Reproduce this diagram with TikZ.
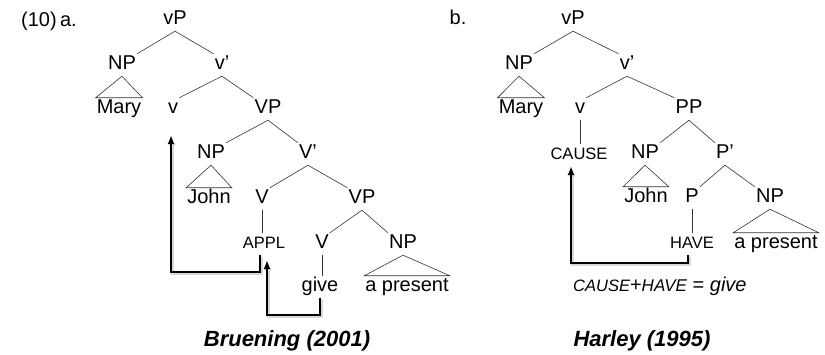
\documentclass[tikz,border=0pt]{standalone}
\usepackage{fontspec}
\setmainfont{Liberation Sans}
\usetikzlibrary{arrows.meta}

\begin{document}
\begin{tikzpicture}[x=1pt,y=-1pt,
        cat/.style={inner xsep=1pt,inner ysep=2pt,text height=14pt,text depth=4pt,font=\fontsize{20}{24}\selectfont},
        feat/.style={cat,font=\fontsize{16.5}{20}\selectfont},
        source/.style={cat,font=\fontsize{22}{26}\selectfont\bfseries\itshape},
        branch/.style={draw=black!80,line width=.6pt},
        move/.style={line width=1.4pt,-{Latex[length=9pt,width=7pt]},
            preaction={draw=black!15,line width=2.6pt,transform canvas={shift={(1.2pt,-1.5pt)}}}}]
        \useasboundingbox (0,0) rectangle (825,355);

        % (a) Bruening
        \node[cat,anchor=west] (lbla) at (20,22) {(10)\,a.};
        \node[cat] (vPa) at (175,20) {vP};
        \node[cat] (NPa) at (122,65) {NP};
        \node[cat] (vbara) at (222,65) {v’};
        \node[cat] (Marya) at (119,109) {Mary};
        \node[cat] (va) at (173,109) {v};
        \node[cat] (VPa) at (268,109) {VP};
        \node[cat] (NPb) at (211,154) {NP};
        \node[cat] (Vbara) at (308,154) {V’};
        \node[cat] (Johna) at (209,199) {John};
        \node[cat] (Va) at (262,199) {V};
        \node[cat] (VPb) at (362,199) {VP};
        \node[feat] (appl) at (264,244) {APPL};
        \node[cat] (Vb) at (322,244) {V};
        \node[cat] (NPc) at (403,244) {NP};
        \node[cat] (give) at (320,287) {give};
        \node[cat] (presa) at (407,287) {a present};
        \node[source] (capa) at (287,342) {Bruening (2001)};

        \draw[branch] (vPa.south) -- (NPa.north east) (vPa.south) -- (vbara.north west);
        \draw[branch] (vbara.south) -- (va.north east) (vbara.south) -- (VPa.north west);
        \draw[branch] (VPa.south) -- (NPb.north east) (VPa.south) -- (Vbara.north west);
        \draw[branch] (Vbara.south) -- (Va.north east) (Vbara.south) -- (VPb.north west);
        \draw[branch] (VPb.south) -- (Vb.north east) (VPb.south) -- (NPc.north west);
        \draw[branch] (Va.south) -- (appl.north -| Va.south);
        \draw[branch] (Vb.south) -- (give.north -| Vb.south);
        \draw[branch] (NPa.south) -- (Marya.north west) -- (Marya.north east) -- cycle;
        \draw[branch] (NPb.south) -- (Johna.north west) -- (Johna.north east) -- cycle;
        \draw[branch] (NPc.south) -- (presa.north west) -- (presa.north east) -- cycle;

        \draw[move] ([xshift=-4pt]appl.south) -- ++(0,17) -| ([xshift=-2pt,yshift=-15pt]va.south);
        \draw[move] (give.south) -- ++(0,17) -| ([xshift=3pt,yshift=-5pt]appl.south);

        % (b) Harley
        \node[cat] (lblb) at (458,20) {b.};
        \node[cat] (vPb) at (573,20) {vP};
        \node[cat] (NPd) at (519,65) {NP};
        \node[cat] (vbarb) at (627,65) {v’};
        \node[cat] (Maryb) at (521,109) {Mary};
        \node[cat] (vb) at (580,109) {v};
        \node[cat] (PP) at (689,109) {PP};
        \node[feat] (cause) at (579,155) {CAUSE};
        \node[cat] (NPe) at (645,154) {NP};
        \node[cat] (Pbar) at (725,154) {P’};
        \node[cat] (Johnb) at (646,198) {John};
        \node[cat] (P) at (692,198) {P};
        \node[cat] (NPf) at (770,198) {NP};
        \node[feat] (have) at (692,244) {HAVE};
        \node[cat] (presb) at (776,244) {a present};
        \node[cat,anchor=west] (eq) at (572,287)
            {{\fontsize{16.5}{20}\selectfont\itshape CAUSE}+{\fontsize{17}{20}\selectfont\itshape HAVE} = \textit{give}};
        \node[source] (capb) at (642,342) {Harley (1995)};

        \draw[branch] (vPb.south) -- (NPd.north east) (vPb.south) -- (vbarb.north west);
        \draw[branch] (vbarb.south) -- (vb.north east) (vbarb.south) -- (PP.north west);
        \draw[branch] (PP.south) -- (NPe.north east) (PP.south) -- (Pbar.north west);
        \draw[branch] (Pbar.south) -- (P.north east) (Pbar.south) -- (NPf.north west);
        \draw[branch] (vb.south) -- (cause.north -| vb.south);
        \draw[branch] (P.south) -- (have.north -| P.south);
        \draw[branch] (NPd.south) -- (Maryb.north west) -- (Maryb.north east) -- cycle;
        \draw[branch] (NPe.south) -- (Johnb.north west) -- (Johnb.north east) -- cycle;
        \draw[branch] (NPf.south) -- (presb.north west) -- (presb.north east) -- cycle;

        \draw[move] ([xshift=-4pt]have.south) -- ++(0,8) -| ([xshift=-8pt]cause.south);
    \end{tikzpicture}
\end{document}
